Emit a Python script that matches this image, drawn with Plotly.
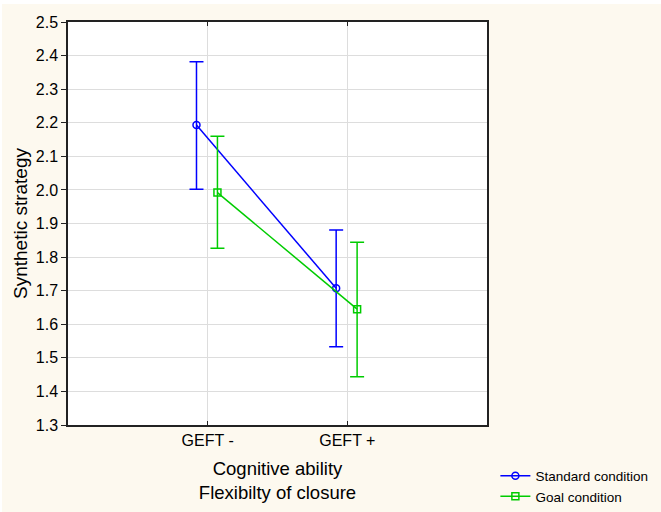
import plotly.graph_objects as go

categories = ["GEFT -", "GEFT +"]
standard_mean = [2.193, 1.707]
standard_upper = [2.382, 1.881]
standard_lower = [2.002, 1.533]
goal_mean = [1.992, 1.645]
goal_upper = [2.160, 1.844]
goal_lower = [1.826, 1.444]
y_ticks = [1.3, 1.4, 1.5, 1.6, 1.7, 1.8, 1.9, 2.0, 2.1, 2.2, 2.3, 2.4, 2.5]

FONT = "Liberation Sans, Arial, Helvetica, sans-serif"
BLUE = "#0000FF"
GREEN = "#00CC00"
AXIS = "#222222"

pos = list(range(len(categories)))

def trace(name, mean, upper, lower, offset, color, symbol):
    return go.Scatter(
        x=[p + offset for p in pos], y=mean, name=name,
        mode="lines+markers",
        line=dict(color=color, width=1.5),
        marker=dict(symbol=symbol, size=7, color=color, line=dict(color=color, width=1.5)),
        error_y=dict(type="data", symmetric=False,
                     array=[u - m for u, m in zip(upper, mean)],
                     arrayminus=[m - l for m, l in zip(mean, lower)],
                     color=color, thickness=1.5, width=7),
    )

fig = go.Figure()
fig.add_trace(trace("Standard condition", standard_mean, standard_upper, standard_lower, -0.08, BLUE, "circle-open"))
fig.add_trace(trace("Goal condition", goal_mean, goal_upper, goal_lower, 0.07, GREEN, "square-open"))

fig.update_layout(
    width=659, height=508,
    margin=dict(l=66, r=174, t=18, b=87, autoexpand=False),
    paper_bgcolor="#FDF9EF", plot_bgcolor="#FFFFFF",
    font=dict(family=FONT, size=16, color="#000000"),
    showlegend=True,
    legend=dict(x=1.02, y=-0.088, xanchor="left", yanchor="top",
                bgcolor="rgba(0,0,0,0)", font=dict(size=13.5), tracegroupgap=0),
)
fig.update_xaxes(
    range=[-1, 2], tickvals=pos, ticktext=categories, automargin=False,
    showgrid=True, gridcolor="#DDDDDD", gridwidth=1,
    showline=True, linecolor=AXIS, linewidth=1.5, mirror="ticks",
    ticks="inside", ticklen=4, tickcolor=AXIS, zeroline=False,
    title=dict(text="Cognitive ability<br>Flexibilty of closure", font=dict(size=18.5), standoff=14),
)
fig.update_yaxes(
    range=[1.3, 2.5], tickvals=y_ticks, tickformat=".1f", automargin=False,
    showgrid=True, gridcolor="#DDDDDD", gridwidth=1,
    showline=True, linecolor=AXIS, linewidth=1.5, mirror=True,
    ticks="outside", ticklen=5, tickcolor=AXIS, zeroline=False,
    title=dict(text="Synthetic strategy", font=dict(size=19), standoff=3),
)
fig.update_layout(
    yaxis2=dict(overlaying="y", side="right", anchor="x", range=[1.3, 2.5], tickvals=y_ticks,
                showticklabels=False, showgrid=False, zeroline=False, automargin=False,
                ticks="inside", ticklen=4, tickcolor=AXIS, showline=False),
)

fig.write_html("out.html", post_script="document.body.style.margin='4px 0 0 2px';")
